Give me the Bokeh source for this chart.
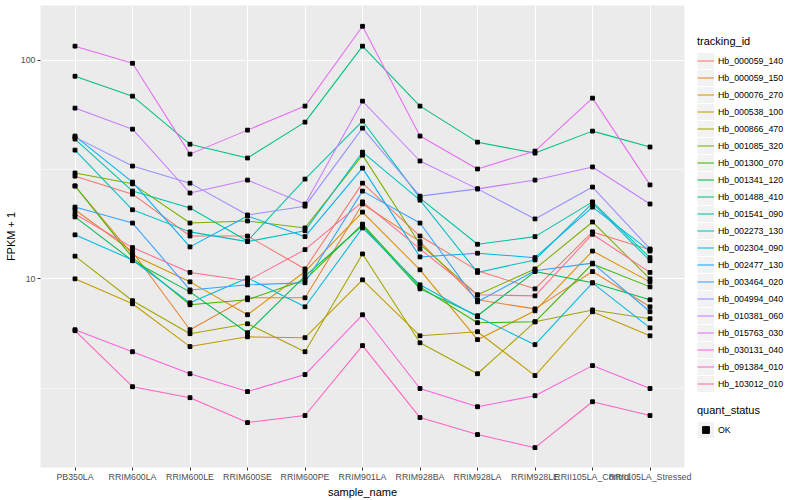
from bokeh.plotting import figure
from bokeh.layouts import row
from bokeh.models import FactorRange, Range1d, FixedTicker, Legend, LegendItem
from bokeh.embed import file_html
from bokeh.resources import INLINE

samples = ["PB350LA", "RRIM600LA", "RRIM600LE", "RRIM600SE", "RRIM600PE", "RRIM901LA",
           "RRIM928BA", "RRIM928LA", "RRIM928LE", "RRII105LA_Control", "RRII105LA_Stressed"]

tracking_ids = ["Hb_000059_140", "Hb_000059_150", "Hb_000076_270", "Hb_000538_100",
                "Hb_000866_470", "Hb_001085_320", "Hb_001300_070", "Hb_001341_120",
                "Hb_001488_410", "Hb_001541_090", "Hb_002273_130", "Hb_002304_090",
                "Hb_002477_130", "Hb_003464_020", "Hb_004994_040", "Hb_010381_060",
                "Hb_015763_030", "Hb_030131_040", "Hb_091384_010", "Hb_103012_010"]

colors = ["#F8766D", "#EA8331", "#D89000", "#C09B00", "#A3A500", "#7CAE00", "#39B600",
          "#00BB4E", "#00BF7D", "#00C1A3", "#00BFC4", "#00BAE0", "#00B0F6", "#35A2FF",
          "#9590FF", "#C77CFF", "#E76BF3", "#FA62DB", "#FF62BC", "#FF6C91"]

# FPKM + 1 per sample, one list per tracking_id
hb_000059_140 = [29.5, 24.4, 15.7, 15.7, 11.1, 27.4, 15.7, 10.9, 9.00, 16.4, 13.6]
hb_000059_150 = [20.7, 13.3, 5.85, 8.19, 8.19, 22.0, 14.8, 8.02, 7.29, 10.8, 7.45]
hb_000076_270 = [26.6, 12.9, 9.69, 6.85, 10.8, 20.2, 11.0, 5.27, 7.14, 13.4, 9.69]
hb_000538_100 = [10.0, 7.69, 4.90, 5.43, 5.38, 9.90, 5.49, 5.73, 3.61, 7.07, 5.49]
hb_000866_470 = [12.7, 7.94, 5.61, 6.23, 4.64, 13.0, 5.10, 3.68, 6.36, 7.21, 6.57]
hb_001085_320 = [30.5, 27.2, 18.0, 18.4, 17.1, 36.8, 14.4, 8.45, 11.1, 18.2, 10.0]
hb_001300_070 = [26.6, 12.5, 7.61, 8.02, 9.90, 17.8, 9.19, 6.30, 6.36, 11.7, 9.19]
hb_001341_120 = [19.2, 12.1, 8.72, 5.67, 10.3, 17.5, 9.00, 6.78, 10.8, 9.59, 8.02]
hb_001488_410 = [84.5, 68.5, 41.3, 35.7, 52.1, 116.0, 61.7, 42.2, 37.6, 47.4, 40.1]
hb_001541_090 = [43.6, 25.2, 21.1, 14.9, 28.6, 52.7, 23.4, 14.4, 15.6, 22.5, 12.5]
hb_002273_130 = [38.8, 20.7, 16.4, 14.8, 16.6, 38.0, 22.9, 10.7, 12.2, 22.2, 12.1]
hb_002304_090 = [15.9, 12.2, 7.77, 10.1, 7.45, 17.1, 9.39, 6.71, 5.00, 9.59, 5.97]
hb_002477_130 = [45.0, 27.7, 14.0, 19.4, 15.6, 32.1, 12.6, 13.1, 12.5, 21.3, 13.4]
hb_003464_020 = [21.3, 18.0, 8.90, 9.39, 9.59, 25.2, 18.0, 7.85, 10.9, 11.8, 7.07]
hb_004994_040 = [44.5, 32.8, 27.4, 19.6, 21.5, 48.9, 23.9, 25.8, 18.8, 26.3, 13.7]
hb_010381_060 = [60.4, 48.4, 24.7, 28.3, 22.0, 65.0, 34.6, 25.8, 28.3, 32.5, 22.0]
hb_015763_030 = [116.0, 96.9, 37.2, 47.9, 61.7, 143.0, 45.0, 31.8, 38.4, 67.1, 26.9]
hb_030131_040 = [5.85, 4.64, 3.68, 3.05, 3.65, 6.85, 3.15, 2.60, 2.92, 4.01, 3.15]
hb_091384_010 = [5.79, 3.21, 2.86, 2.20, 2.37, 4.95, 2.32, 1.94, 1.69, 2.74, 2.37]
hb_103012_010 = [19.8, 13.9, 10.7, 9.80, 13.6, 22.5, 13.7, 8.45, 8.36, 16.0, 10.7]

series = [hb_000059_140, hb_000059_150, hb_000076_270, hb_000538_100, hb_000866_470,
          hb_001085_320, hb_001300_070, hb_001341_120, hb_001488_410, hb_001541_090,
          hb_002273_130, hb_002304_090, hb_002477_130, hb_003464_020, hb_004994_040,
          hb_010381_060, hb_015763_030, hb_030131_040, hb_091384_010, hb_103012_010]

quant_status = ["OK"]

y_ticks = [10, 100]
y_minor = [3.1623, 31.623]

FONT = "Liberation Sans"
H = 500

p = figure(width=694, height=H, output_backend="svg", toolbar_location=None,
           x_range=FactorRange(factors=samples, range_padding=0.1, range_padding_units="absolute"),
           y_range=Range1d(1.371, 178.0), y_axis_type="log",
           min_border_left=40, min_border_right=10, min_border_top=5, min_border_bottom=28)

p.background_fill_color = "#EBEBEB"
p.border_fill_color = "white"
p.outline_line_color = None

p.xgrid.grid_line_color = "white"
p.xgrid.grid_line_width = 1.1
p.ygrid.grid_line_color = "white"
p.ygrid.grid_line_width = 1.1
p.ygrid.minor_grid_line_color = "white"
p.ygrid.minor_grid_line_width = 0.55

p.yaxis.ticker = FixedTicker(ticks=y_ticks, minor_ticks=y_minor)
p.yaxis.major_label_overrides = {10: "10", 100: "100"}

for ax in (p.xaxis[0], p.yaxis[0]):
    ax.axis_line_color = None
    ax.major_tick_line_color = "#333333"
    ax.major_tick_in = 0
    ax.major_tick_out = 3
    ax.minor_tick_line_color = None
    ax.major_label_text_color = "#4D4D4D"
    ax.major_label_text_font = FONT
    ax.major_label_text_font_size = "8.8px"
    ax.major_label_standoff = 1
    ax.axis_label_text_font = FONT
    ax.axis_label_text_font_size = "11px"
    ax.axis_label_text_font_style = "normal"
    ax.axis_label_text_color = "black"
    ax.axis_label_standoff = 1

p.xaxis.axis_label = "sample_name"
p.yaxis.axis_label = "FPKM + 1"

for tid, col, vals in zip(tracking_ids, colors, series):
    p.line(x=samples, y=vals, line_color=col, line_width=1.05)

for vals in series:
    p.scatter(x=samples, y=vals, marker="square", size=3.8, color="black")

# legend panel
q = figure(width=98, height=H, output_backend="svg", toolbar_location=None,
           x_range=Range1d(0, 1), y_range=Range1d(0, 1),
           min_border_left=0, min_border_right=0, min_border_top=0, min_border_bottom=0)
q.axis.visible = False
q.grid.visible = False
q.outline_line_color = None
q.background_fill_color = "white"
q.border_fill_color = "white"

nan = float("nan")
bg = q.line(x=[nan, nan], y=[nan, nan], line_width=16, line_color="#F2F2F2")
items = []
for tid, col in zip(tracking_ids, colors):
    r = q.line(x=[nan, nan], y=[nan, nan], line_color=col, line_width=1.05)
    items.append(LegendItem(label=tid, renderers=[bg, r]))
pt = q.scatter(x=[nan], y=[nan], marker="square", size=3.8, color="black")


def style(leg):
    leg.background_fill_alpha = 0
    leg.border_line_color = None
    leg.padding = 0
    leg.margin = 0
    leg.spacing = 0
    leg.glyph_width = 17
    leg.glyph_height = 17
    leg.label_height = 17
    leg.label_standoff = 4
    leg.label_text_font = FONT
    leg.label_text_font_size = "8.8px"
    leg.label_text_color = "black"
    leg.title_text_font = FONT
    leg.title_text_font_size = "11px"
    leg.title_text_font_style = "normal"
    leg.title_text_color = "black"
    leg.title_standoff = 5


leg1 = Legend(items=items, title="tracking_id", location=(3, 75))
style(leg1)
q.add_layout(leg1)

leg2 = Legend(items=[LegendItem(label=quant_status[0], renderers=[bg, pt])],
              title="quant_status", location=(3, 29))
style(leg2)
q.add_layout(leg2)

layout = row(p, q)
open("out.html", "w").write(file_html(layout, INLINE))
